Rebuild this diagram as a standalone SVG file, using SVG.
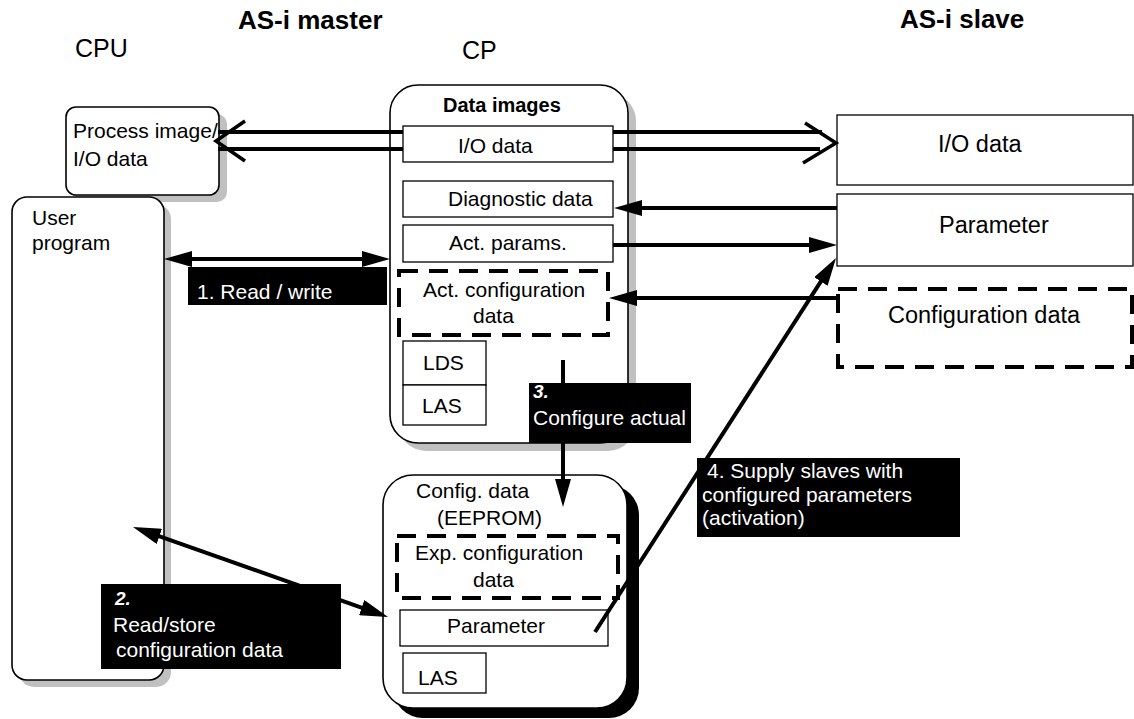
<svg xmlns="http://www.w3.org/2000/svg" width="1134" height="719" viewBox="0 0 1134 719">
<style>
text{font-family:"Liberation Sans",Arial,sans-serif;fill:#000}
.t{font-size:21px}
.ts{font-size:23.5px}
.h{font-size:26px;font-weight:bold}
.hd{font-size:25px}
.box{fill:#fff;stroke:#000;stroke-width:1.6}
.in{fill:#fff;stroke:#000;stroke-width:1.3}
.dash{fill:#fff;stroke:#000;stroke-width:4;stroke-dasharray:19 11}
.sh{fill:#c0c0c0}
.shb{fill:#000}
.ln{stroke:#000;stroke-width:4;fill:none}
.lbl{fill:#000}
.lt{font-size:21px;fill:#fff}
.lb{font-size:19px;fill:#fff;font-weight:bold;font-style:italic}
</style>
<defs>
<marker id="ah" markerWidth="28" markerHeight="16" refX="20" refY="8" orient="auto-start-reverse" markerUnits="userSpaceOnUse" viewBox="0 0 28 16">
<path d="M0,0 L28,8 L0,16 z" fill="#000"/>
</marker>
</defs>
<rect width="1134" height="719" fill="#fff"/>

<g id="titles">
<text class="h" x="238" y="29">AS-i master</text>
<text class="h" x="900" y="28">AS-i slave</text>
<text class="hd" x="75" y="57">CPU</text>
<text class="hd" x="462" y="59">CP</text>
</g>

<g id="process-image">
<rect class="sh" x="74" y="114" width="153" height="88" rx="10"/>
<rect class="box" x="66" y="107" width="153" height="88" rx="10"/>
<text class="t" x="73" y="138">Process image/</text>
<text class="t" x="73" y="166">I/O data</text>
</g>

<g id="user-program">
<rect class="sh" x="19" y="204" width="152" height="483" rx="15"/>
<rect class="box" x="12" y="197" width="152" height="483" rx="15"/>
<text class="t" x="32" y="225">User</text>
<text class="t" x="32" y="250">program</text>
</g>

<g id="cp-data-images">
<rect class="sh" x="398" y="93" width="238" height="358" rx="28"/>
<rect class="box" x="390" y="85" width="238" height="358" rx="28"/>
<text x="443" y="112" style="font-size:20px;font-weight:bold">Data images</text>
<rect class="in" x="403" y="126" width="210" height="36"/>
<text class="t" x="458" y="153">I/O data</text>
<rect class="in" x="403" y="181" width="210" height="36"/>
<text class="t" x="448" y="206">Diagnostic data</text>
<rect class="in" x="403" y="225" width="210" height="37"/>
<text class="t" x="449" y="250">Act. params.</text>
<rect class="dash" x="399" y="271" width="209" height="64"/>
<text class="t" x="423" y="297">Act. configuration</text>
<text class="t" x="473" y="323">data</text>
<rect class="in" x="403" y="341" width="83" height="44"/>
<text class="t" x="423" y="370">LDS</text>
<rect class="in" x="403" y="385" width="83" height="40"/>
<text class="t" x="422" y="413">LAS</text>
</g>

<g id="config-eeprom">
<rect class="shb" x="393" y="485" width="246" height="233" rx="30"/>
<rect class="box" x="383" y="475" width="244" height="233" rx="30"/>
<text class="t" x="416" y="498">Config. data</text>
<text class="t" x="437" y="525">(EEPROM)</text>
<rect class="dash" x="397" y="536" width="221" height="62"/>
<text class="t" x="415" y="560">Exp. configuration</text>
<text class="t" x="473" y="587">data</text>
<rect class="in" x="400" y="610" width="208" height="36"/>
<text class="t" x="447" y="633">Parameter</text>
<rect class="in" x="403" y="653" width="83" height="40"/>
<text class="t" x="418" y="685">LAS</text>
</g>

<g id="slave-io">
<rect class="in" x="837" y="115" width="296" height="70"/>
<text class="ts" x="938" y="152">I/O data</text>
</g>
<g id="slave-parameter">
<rect class="in" x="837" y="194" width="296" height="72"/>
<text class="ts" x="939" y="233">Parameter</text>
</g>
<g id="slave-config">
<rect class="dash" x="838" y="289" width="294" height="78"/>
<text class="ts" x="888" y="323">Configuration data</text>
</g>

<g id="connectors">
<line class="ln" x1="218" y1="132" x2="403" y2="132"/>
<line class="ln" x1="218" y1="149" x2="403" y2="149"/>
<line class="ln" x1="613" y1="132" x2="822" y2="132"/>
<line class="ln" x1="613" y1="149" x2="820" y2="149"/>
<polyline points="245,121 216,141 245,161" fill="none" stroke="#000" stroke-width="3.5"/>
<polyline points="805,123 836,143 803,163" fill="none" stroke="#000" stroke-width="3.5"/>
<line class="ln" x1="837" y1="208" x2="622" y2="208" marker-end="url(#ah)"/>
<line class="ln" x1="613" y1="245" x2="829" y2="245" marker-end="url(#ah)"/>
<line class="ln" x1="837" y1="298" x2="617" y2="298" marker-end="url(#ah)"/>
<line class="ln" x1="172" y1="259" x2="382" y2="259" marker-start="url(#ah)" marker-end="url(#ah)"/>
<line class="ln" x1="563" y1="360" x2="563" y2="499" marker-end="url(#ah)"/>
<line class="ln" x1="140.5" y1="529.7" x2="380.5" y2="614.3" stroke-width="3.5" marker-start="url(#ah)" marker-end="url(#ah)"/>
<line class="ln" x1="595" y1="632" x2="831.7" y2="264.7" marker-end="url(#ah)"/>

<g id="label-1">
<rect class="lbl" x="188" y="267" width="199" height="38"/>
<text class="lt" x="197" y="299">1. Read / write</text>
</g>
<g id="label-2">
<rect class="lbl" x="101" y="584" width="240" height="85"/>
<text class="lb" x="115" y="605">2.</text>
<text class="lt" x="113" y="632">Read/store</text>
<text class="lt" x="116" y="657">configuration data</text>
</g>
<g id="label-3">
<rect class="lbl" x="529" y="383" width="162" height="60"/>
<text class="lb" x="533" y="398">3.</text>
<text class="lt" x="533" y="425">Configure actual</text>
</g>
<g id="label-4">
<rect class="lbl" x="697" y="458" width="263" height="79"/>
<text class="lt" x="707" y="478">4. Supply slaves with</text>
<text class="lt" x="702" y="502">configured parameters</text>
<text class="lt" x="702" y="525">(activation)</text>
</g>
</g>
</svg>
